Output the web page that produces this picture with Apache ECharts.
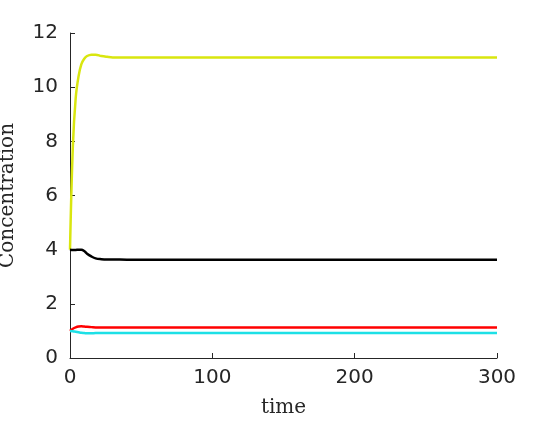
<!DOCTYPE html>
<html>
<head>
<meta charset="utf-8">
<script src="https://cdn.jsdelivr.net/npm/echarts@6/dist/echarts.min.js"></script>
<style>html,body{margin:0;padding:0;background:#fff}#chart{width:550px;height:427px}</style>
</head>
<body>
<div id="chart"></div>
<script>
const times  = [0, 2, 4, 6, 8, 10, 12, 15, 18, 22, 26, 30, 40, 60, 100, 150, 200, 250, 300];
const yellow = [4, 7.8, 9.6, 10.4, 10.85, 11.05, 11.15, 11.2, 11.2, 11.15, 11.12, 11.1, 11.1, 11.1, 11.1, 11.1, 11.1, 11.1, 11.1];
const black  = [4, 3.99, 3.99, 4.0, 4.0, 3.95, 3.85, 3.75, 3.68, 3.65, 3.64, 3.64, 3.63, 3.63, 3.63, 3.63, 3.63, 3.63, 3.63];
const red    = [1.0, 1.08, 1.13, 1.16, 1.17, 1.16, 1.15, 1.14, 1.13, 1.13, 1.13, 1.13, 1.13, 1.13, 1.13, 1.13, 1.13, 1.13, 1.13];
const cyan   = [1.0, 0.99, 0.97, 0.95, 0.93, 0.92, 0.91, 0.91, 0.92, 0.92, 0.92, 0.92, 0.92, 0.92, 0.92, 0.92, 0.92, 0.92, 0.92];
const xTicks = [0, 100, 200, 300];
const yTicks = [0, 2, 4, 6, 8, 10, 12];

function pairs(vals) {
    return times.map((t, i) => [t, vals[i]]);
}

function line(name, vals, color) {
    return {
        name: name, type: 'line', data: pairs(vals), smooth: 0.4,
        showSymbol: false, lineStyle: { color: color, width: 2.5 }
    };
}

const chart = echarts.init(document.getElementById('chart'));
const axisText = { color: '#262626', fontSize: 20, fontFamily: 'DejaVu Sans' };
chart.setOption({
    animation: false,
    grid: { left: 70, right: 53, top: 33, bottom: 69, outerBoundsMode: 'none' },
    xAxis: {
        type: 'value', min: xTicks[0], max: xTicks[xTicks.length - 1], interval: 100,
        name: 'time', nameLocation: 'middle', nameGap: 40,
        nameTextStyle: { fontFamily: 'DejaVu Serif', fontSize: 20, color: '#262626' },
        axisLine: { lineStyle: { color: '#262626' } },
        axisTick: { inside: true, length: 5, lineStyle: { color: '#262626' } },
        axisLabel: Object.assign({ margin: 10 }, axisText),
        splitLine: { show: false }
    },
    yAxis: {
        type: 'value', min: yTicks[0], max: yTicks[yTicks.length - 1], interval: 2,
        name: 'Concentration', nameLocation: 'middle', nameGap: 52,
        nameTextStyle: { fontFamily: 'DejaVu Serif', fontSize: 20, color: '#262626' },
        axisLine: { show: true, lineStyle: { color: '#262626' } },
        axisTick: { show: true, inside: true, length: 5, lineStyle: { color: '#262626' } },
        axisLabel: Object.assign({ margin: 12 }, axisText),
        splitLine: { show: false }
    },
    series: [
        line('y1', yellow, '#d9e60f'),
        line('y2', black, '#000000'),
        line('y3', red, '#ff0000'),
        line('y4', cyan, '#1de0e6')
    ]
});
</script>
</body>
</html>
